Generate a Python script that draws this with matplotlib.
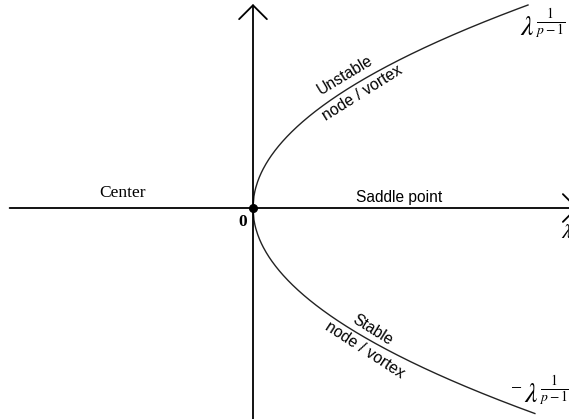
import numpy as np
import matplotlib
matplotlib.use('Agg')
import matplotlib.pyplot as plt

plt.rcParams['mathtext.fontset'] = 'stix'

# 分岔图参数: 幅值 = ±λ^(1/(p-1))
p_exp = 3
lam_end_upper = 1.0      # 上支 (不稳定) 终点 λ
lam_end_lower = 1.025    # 下支 (稳定) 终点 λ
region_labels = ['Center', 'Saddle point']
branch_labels = [('Unstable', 'node / vortex'), ('Stable', 'node / vortex')]

lam_up = np.linspace(0, lam_end_upper, 300)
lam_dn = np.linspace(0, lam_end_lower, 300)
amp_up = lam_up ** (1.0 / (p_exp - 1))
amp_dn = -lam_dn ** (1.0 / (p_exp - 1))

fig = plt.figure(figsize=(5.69, 4.19), dpi=100)
ax = fig.add_axes([0, 0, 1, 1])
ax.set_xlim(-253 / 275, 316 / 275)
ax.set_ylim(-211 / 203, 208 / 203)
ax.axis('off')

# 坐标轴 (带箭头)
arrow = dict(arrowstyle='->,head_length=1.0,head_width=1.0', lw=1.3,
             color='black', mutation_scale=10, shrinkA=0, shrinkB=0)
ax.annotate('', xy=(1.182, 0), xytext=(-0.885, 0), arrowprops=arrow,
            annotation_clip=False)
ax.annotate('', xy=(0, 1.005), xytext=(0, -1.06), arrowprops=arrow,
            annotation_clip=False)

# 分岔曲线
ax.plot(lam_up, amp_up, color='#222222', lw=1.0)
ax.plot(lam_dn, amp_dn, color='#222222', lw=1.0)
ax.plot([0], [0], 'o', color='black', markersize=5.5, zorder=5)

# 文字
serif = 'Liberation Serif'
sans = 'Liberation Sans'
ax.text(-0.473, 0.074, region_labels[0], family=serif, fontsize=12.5,
        ha='center', va='center')
ax.text(0.531, 0.054, region_labels[1], family=sans, fontsize=11.2,
        ha='center', va='center')
ax.text(-0.036, -0.069, '0', family=serif, fontsize=12.5, fontweight='bold',
        ha='center', va='center')
ax.text(1.142, -0.118, r'$\lambda$', fontsize=15, ha='center', va='center')

ax.text(0.971, 0.852, r'$\lambda^{\frac{1}{p-1}}$', fontsize=20,
        ha='left', va='baseline')
ax.text(0.980, -0.892, '\u2212', family=serif, fontsize=14,
        ha='right', va='center')
ax.text(0.984, -0.956, r'$\lambda^{\frac{1}{p-1}}$', fontsize=20,
        ha='left', va='baseline')

ax.text(0.335, 0.655, branch_labels[0][0], family=sans, fontsize=11.3,
        rotation=31, ha='center', va='center', rotation_mode='anchor')
ax.text(0.396, 0.567, branch_labels[0][1], family=sans, fontsize=11.3,
        rotation=32, ha='center', va='center', rotation_mode='anchor')
ax.text(0.433, -0.601, branch_labels[1][0], family=sans, fontsize=11.3,
        rotation=-32, ha='center', va='center', rotation_mode='anchor')
ax.text(0.407, -0.700, branch_labels[1][1], family=sans, fontsize=11.3,
        rotation=-33, ha='center', va='center', rotation_mode='anchor')

fig.savefig('out.png', dpi=100)
